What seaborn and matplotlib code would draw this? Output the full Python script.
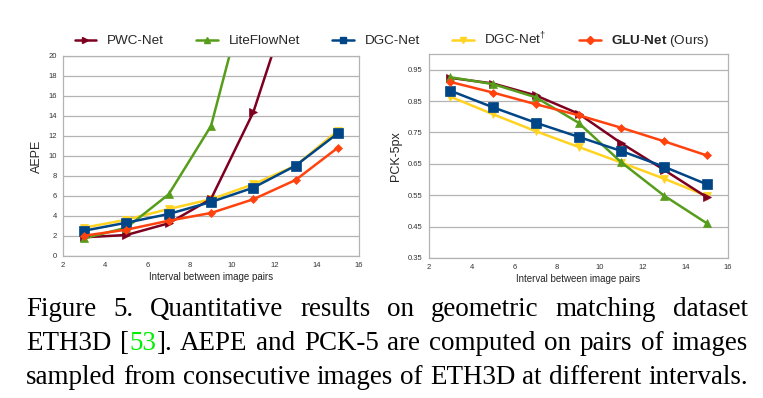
import numpy as np
import pandas as pd
import matplotlib.pyplot as plt
import seaborn as sns
from matplotlib.lines import Line2D

# values
intervals = [3, 5, 7, 9, 11, 13, 15]
methods = ["PWC-Net", "LiteFlowNet", "DGC-Net", "DGC-Net†", "GLU-Net"]

aepe_pwc = [1.87, 2.10, 3.27, 5.70, 14.37, 27.3, 38.0]
aepe_lite = [1.77, 2.83, 6.17, 13.0, 29.1, 45.0, 60.0]
aepe_dgc = [2.53, 3.33, 4.20, 5.40, 6.83, 9.03, 12.27]
aepe_dgc_dag = [2.83, 3.63, 4.70, 5.67, 7.17, 9.03, 12.53]
aepe_glu = [2.03, 2.63, 3.53, 4.30, 5.67, 7.60, 10.83]

pck_pwc = [0.924, 0.906, 0.868, 0.810, 0.716, 0.631, 0.544]
pck_lite = [0.926, 0.904, 0.862, 0.781, 0.655, 0.549, 0.461]
pck_dgc = [0.883, 0.830, 0.781, 0.736, 0.691, 0.641, 0.585]
pck_dgc_dag = [0.864, 0.808, 0.754, 0.704, 0.654, 0.603, 0.548]
pck_glu = [0.911, 0.877, 0.840, 0.805, 0.765, 0.722, 0.677]

colors = {"PWC-Net": "#7e0021", "LiteFlowNet": "#579d1c", "DGC-Net": "#004586",
          "DGC-Net†": "#ffd320", "GLU-Net": "#ff420e"}
markers = {"PWC-Net": ">", "LiteFlowNet": "^", "DGC-Net": "s", "DGC-Net†": "v", "GLU-Net": "D"}
msizes = {"PWC-Net": 6, "LiteFlowNet": 6, "DGC-Net": 6.5, "DGC-Net†": 6, "GLU-Net": 4.5}
draw_order = ["DGC-Net†", "PWC-Net", "LiteFlowNet", "DGC-Net", "GLU-Net"]

aepe = {"PWC-Net": aepe_pwc, "LiteFlowNet": aepe_lite, "DGC-Net": aepe_dgc,
        "DGC-Net†": aepe_dgc_dag, "GLU-Net": aepe_glu}
pck = {"PWC-Net": pck_pwc, "LiteFlowNet": pck_lite, "DGC-Net": pck_dgc,
       "DGC-Net†": pck_dgc_dag, "GLU-Net": pck_glu}

rows = []
for m in methods:
    for i, x in enumerate(intervals):
        rows.append({"method": m, "interval": x, "aepe": aepe[m][i], "pck": pck[m][i]})
df = pd.DataFrame(rows)

sns.set_style("white")
plt.rcParams["font.family"] = ["Liberation Sans", "DejaVu Sans"]
plt.rcParams["mathtext.fontset"] = "custom"
plt.rcParams["mathtext.rm"] = "Liberation Sans"
plt.rcParams["mathtext.bf"] = "Liberation Sans:bold"

W, H = 763, 398
fig = plt.figure(figsize=(W / 100, H / 100), dpi=100)

def px_axes(l, t, r, b):
    return fig.add_axes([l / W, 1 - b / H, (r - l) / W, (b - t) / H])

ax1 = px_axes(63, 56, 359, 256)
ax2 = px_axes(429, 54, 728, 258)

grid_c = "#b3b3b3"
for ax, col in [(ax1, "aepe"), (ax2, "pck")]:
    for m in draw_order:
        sub = df[df["method"] == m]
        sns.lineplot(data=sub, x="interval", y=col, color=colors[m], marker=markers[m],
                     markersize=msizes[m], markeredgecolor=colors[m], markeredgewidth=0.5,
                     linewidth=1.8, ax=ax, legend=False)
    ax.set_xlim(2, 16)
    ax.set_xticks(range(2, 17, 2))
    ax.yaxis.grid(True, color=grid_c, linewidth=0.9)
    ax.set_axisbelow(True)
    for s in ax.spines.values():
        s.set_color(grid_c)
        s.set_linewidth(0.9)
    ax.tick_params(axis="both", labelsize=5.5, colors=grid_c, labelcolor="#333333",
                   length=2.5, width=0.8, pad=2)
    ax.set_xlabel("Interval between image pairs", fontsize=7, labelpad=2)

ax1.set_ylim(0, 20)
ax1.set_yticks(range(0, 21, 2))
ax1.set_ylabel("AEPE", fontsize=9, labelpad=4)

ax2.set_ylim(0.35, 1.0)
ax2.set_yticks([0.35, 0.45, 0.55, 0.65, 0.75, 0.85, 0.95])
ax2.set_yticklabels(["0.35", "0.45", "0.55", "0.65", "0.75", "0.85", "0.95"])
ax2.set_ylabel("PCK-5px", fontsize=9, labelpad=4)

labels = ["PWC-Net", "LiteFlowNet", "DGC-Net", r"DGC-Net$^{\dagger}$",
          r"$\mathbf{GLU}$-$\mathbf{Net}$ (Ours)"]
handles = [Line2D([], [], color=colors[m], marker=markers[m], markersize=4,
                  markeredgecolor=colors[m], linewidth=1.8) for m in methods]
fig.legend(handles, labels, loc="center", bbox_to_anchor=(392 / W, 1 - 40 / H), ncol=5,
           frameon=False, fontsize=9.7, handlelength=1.6, handletextpad=0.8,
           columnspacing=2.4)

# caption, justified between two margins
X0, X1 = 26, 748
green = "#00ee00"
cap_lines = [
    ([[("Figure", "k")], [("5.", "k")], [("Quantitative", "k")], [("results", "k")],
      [("on", "k")], [("geometric", "k")], [("matching", "k")], [("dataset", "k")]], 316.5),
    ([[("ETH3D", "k")], [("[", "k"), ("53", green), ("].", "k")], [("AEPE", "k")],
      [("and", "k")], [("PCK-5", "k")], [("are", "k")], [("computed", "k")], [("on", "k")],
      [("pairs", "k")], [("of", "k")], [("images", "k")]], 349.5),
    ([[("sampled", "k")], [("from", "k")], [("consecutive", "k")], [("images", "k")],
      [("of", "k")], [("ETH3D", "k")], [("at", "k")], [("different", "k")],
      [("intervals.", "k")]], 383.5),
]

r = fig.canvas.get_renderer()
probe = fig.text(0, 0, "sampled from consecutive images of ETH3D at different intervals.",
                 fontsize=20, family="Liberation Serif")
cap_size = 20 * (X1 - X0) / probe.get_window_extent(r).width
probe.remove()

for words, y in cap_lines:
    items, widths = [], []
    for w in words:
        pieces, wsum = [], 0
        for txt, c in w:
            t = fig.text(0, 0, txt, fontsize=cap_size, family="Liberation Serif",
                         color=c, va="baseline")
            pw = t.get_window_extent(r).width
            pieces.append((t, pw))
            wsum += pw
        items.append(pieces)
        widths.append(wsum)
    gap = (X1 - X0 - sum(widths)) / (len(words) - 1)
    x = X0
    for pieces, w in zip(items, widths):
        xx = x
        for t, pw in pieces:
            t.set_position((xx / W, 1 - y / H))
            xx += pw
        x += w + gap

fig.savefig("out.png", dpi=100)
